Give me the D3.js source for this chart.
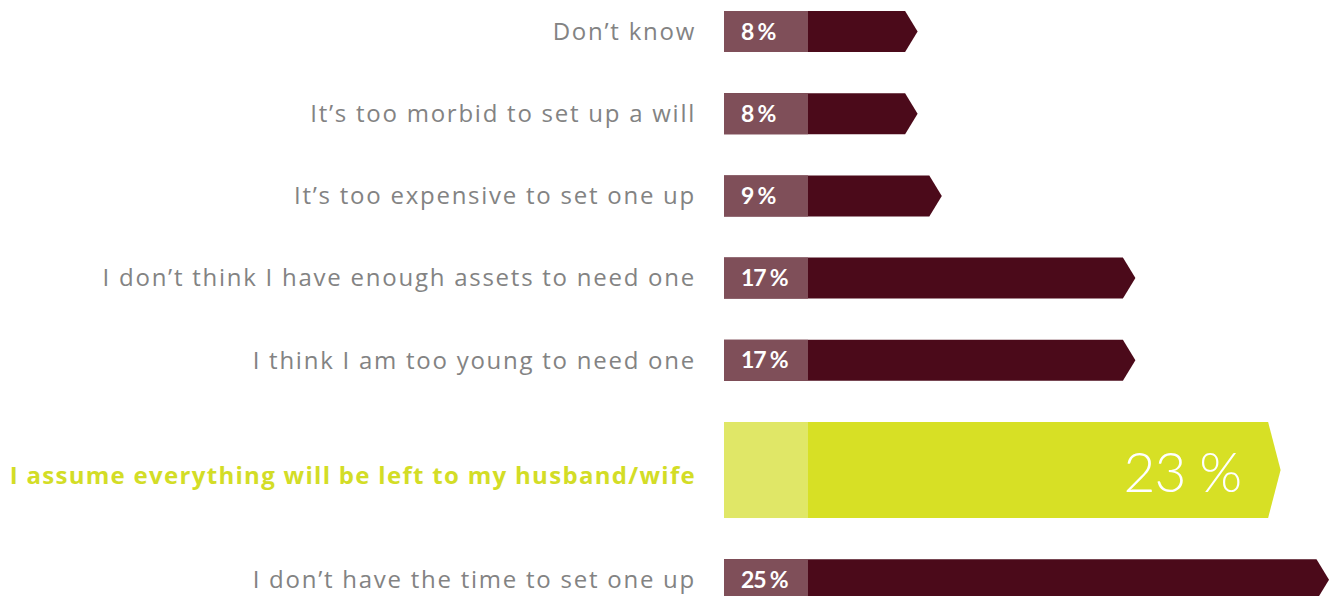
<!DOCTYPE html>
<html>
<head>
<meta charset="utf-8">
<script src="https://cdn.jsdelivr.net/npm/d3@7"></script>
<style>
  html, body { margin: 0; padding: 0; background: #ffffff; }
  svg { display: block; }
</style>
</head>
<body>
<svg id="chart" width="1330" height="596"></svg>
<script>
// Reasons for not having a will (share of respondents, %)
const categories = [
  "Don\u2019t know",
  "It\u2019s too morbid to set up a will",
  "It\u2019s too expensive to set one up",
  "I don\u2019t think I have enough assets to need one",
  "I think I am too young to need one",
  "I assume everything will be left to my husband/wife",
  "I don\u2019t have the time to set one up"
];
const values = [8, 8, 9, 17, 17, 23, 25];
const highlighted = [false, false, false, false, false, true, false];
const valueLabels = ["8 %", "8 %", "9 %", "17 %", "17 %", "23 %", "25 %"];

const rows = categories.map((c, i) => ({
  category: c, value: values[i], highlight: highlighted[i], label: valueLabels[i]
}));

const svg = d3.select("#chart");

const barX0 = 724;
const x = d3.scaleLinear().domain([0, 25]).range([barX0, 1329]);

// Vertical layout: normal rows are one unit tall, the highlighted row is taller
const rowUnits = rows.map(d => d.highlight ? 96 / 41 : 1);
const gapUnits = 1.005;
const starts = [];
let acc = 0;
rowUnits.forEach(u => { starts.push(acc); acc += u + gapUnits; });
const y = d3.scaleLinear().domain([0, 1]).range([11, 52]);
const unitPx = y(1) - y(0);

const boxW = 84;   // lighter lead-in box holding the small value
const tipW = 12.5; // arrow point

const colors = {
  dark: "#4b0a1a", darkBox: "#7f4f59",
  lime: "#d7e025", limeBox: "#e0e767",
  label: "#838383", labelHi: "#d3dd26"
};

const g = svg.selectAll("g.row").data(rows).join("g").attr("class", "row");

g.each(function(d, i) {
  const sel = d3.select(this);
  const top = y(starts[i]);
  const h = rowUnits[i] * unitPx;
  const mid = top + h / 2;
  const xEnd = x(d.value);

  const pts = [
    [barX0, top], [xEnd - tipW, top], [xEnd, mid],
    [xEnd - tipW, top + h], [barX0, top + h]
  ];
  sel.append("path")
    .attr("d", d3.line()(pts) + "Z")
    .attr("fill", d.highlight ? colors.lime : colors.dark);

  sel.append("rect")
    .attr("x", barX0).attr("y", top)
    .attr("width", boxW).attr("height", h)
    .attr("fill", d.highlight ? colors.limeBox : colors.darkBox);

  sel.append("text")
    .attr("x", 696).attr("y", d.highlight ? mid + 13.5 : mid + 8.3)
    .attr("text-anchor", "end")
    .attr("font-family", "'Open Sans', Lato, sans-serif")
    .attr("font-size", 24)
    .attr("font-weight", d.highlight ? 700 : 400)
    .attr("letter-spacing", d.highlight ? 1.3 : 1.75)
    .attr("fill", d.highlight ? colors.labelHi : colors.label)
    .text(d.category);

  if (d.highlight) {
    sel.append("text")
      .attr("x", xEnd - tipW - 27).attr("y", mid + 22)
      .attr("text-anchor", "end")
      .attr("font-family", "Lato, sans-serif")
      .attr("font-size", 55)
      .attr("font-weight", 300)
      .attr("letter-spacing", -1)
      .attr("fill", "#ffffff")
      .text(d.label);
  } else {
    sel.append("text")
      .attr("x", barX0 + 17).attr("y", mid + 8)
      .attr("font-family", "Lato, sans-serif")
      .attr("font-size", 23)
      .attr("font-weight", 700)
      .attr("letter-spacing", -1.2)
      .attr("fill", "#ffffff")
      .text(d.label);
  }
});
</script>
</body>
</html>
